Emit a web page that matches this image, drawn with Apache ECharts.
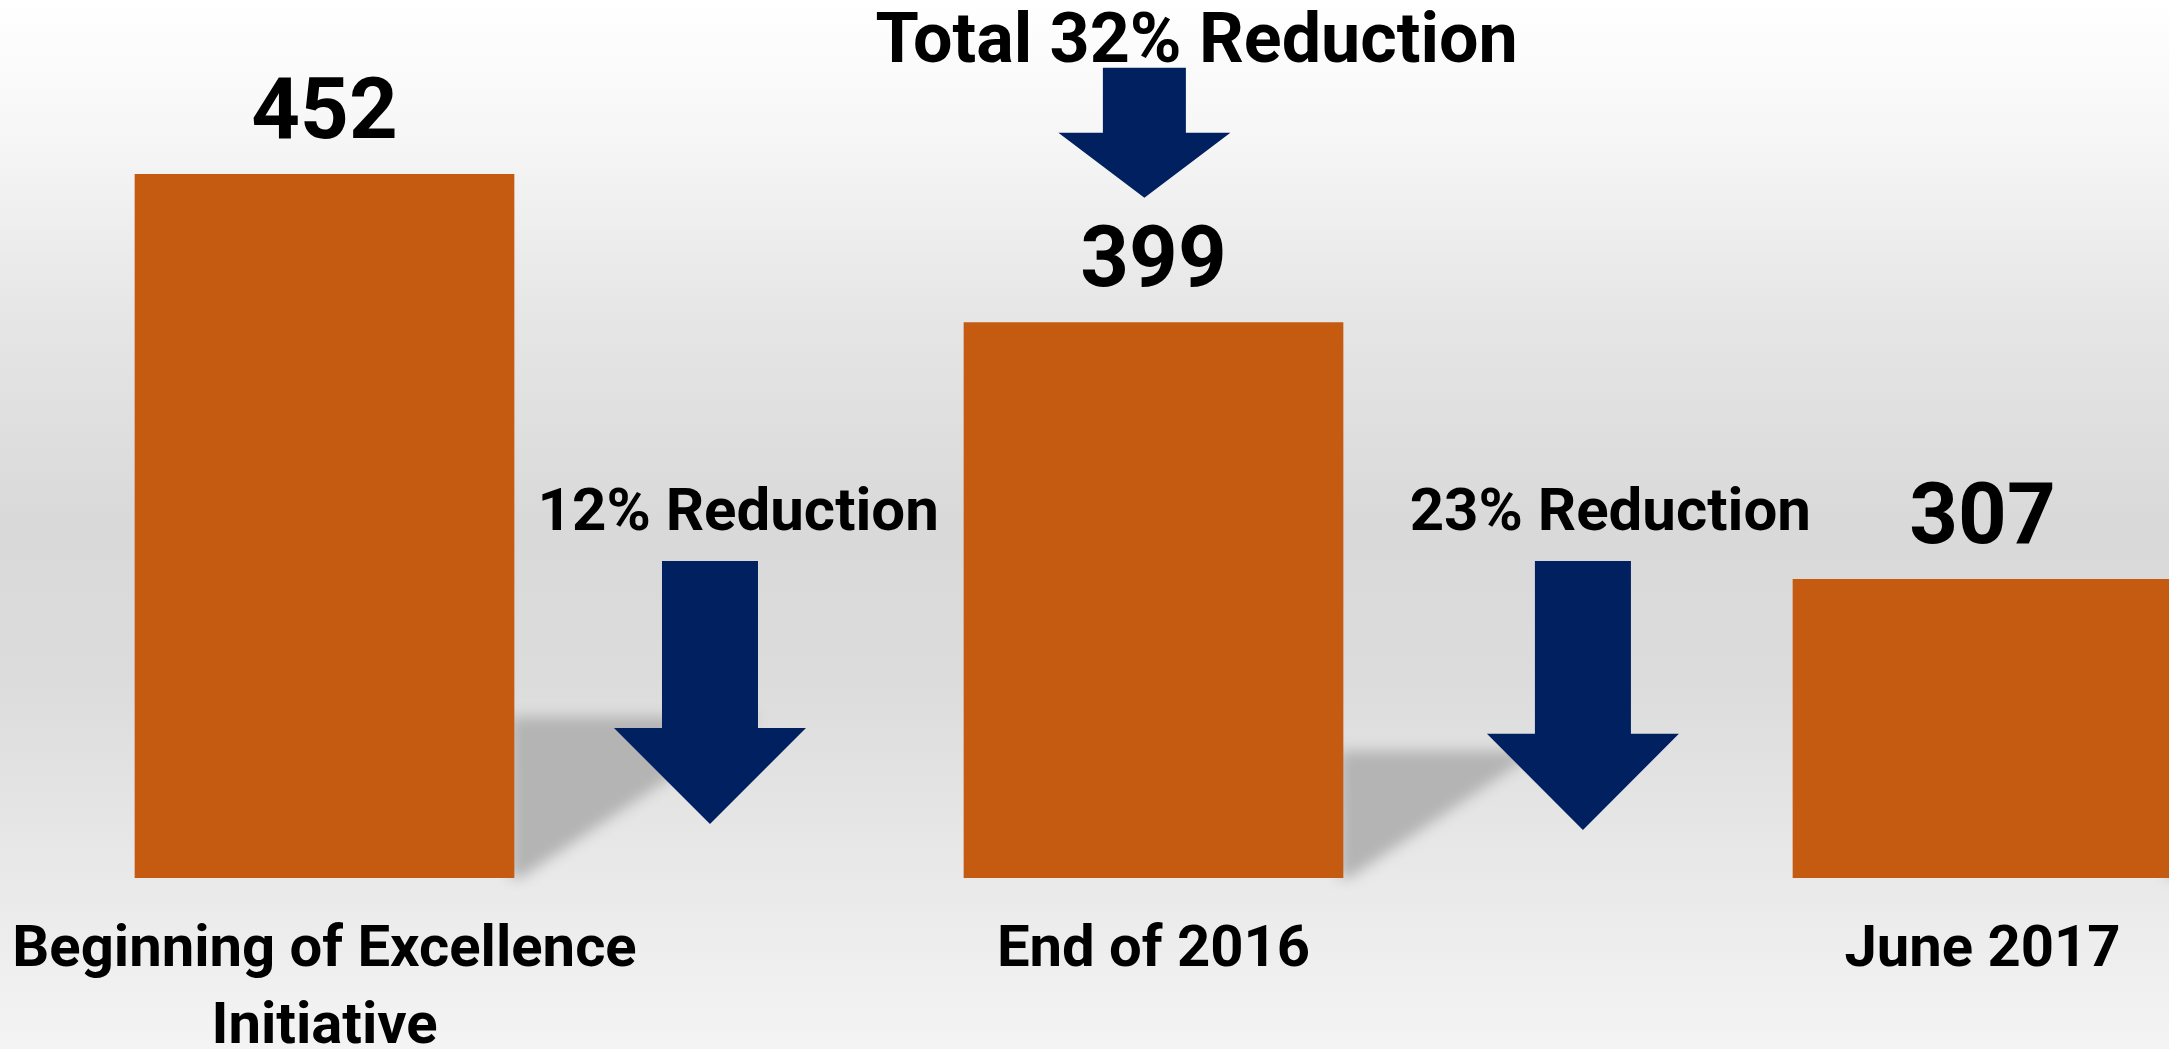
<!DOCTYPE html>
<html>
<head>
<meta charset="utf-8">
<script src="https://cdn.jsdelivr.net/npm/echarts@6/dist/echarts.min.js"></script>
<style>
html,body{margin:0;padding:0;width:2169px;height:1049px;overflow:hidden;}
#c{width:2169px;height:1049px;}
</style>
</head>
<body>
<div id="c"></div>
<script>
// ---- data ----
const categories = ['Beginning of Excellence\nInitiative', 'End of 2016', 'June 2017'];
const values = [452, 399, 307];
// reduction arrows: [category position, shaft top value, head top value, tip value]
const arrowPos = [0.465, 1.518, 0.989];
const arrowShaftTop = [313.5, 313.5, 490.1];
const arrowHeadTop = [253.7, 251.6, 466.8];
const arrowTip = [219.3, 217.2, 443.5];
// annotation texts: [text, category position, value position]
const noteTexts = ['12% Reduction', '23% Reduction', 'Total 32% Reduction'];
const notePos = [0.499, 1.551, 1.052];
const noteVal = [330, 330, 498.5];

const FONT = 'Roboto';
const BAR_W = 0.458;
const chart = echarts.init(document.getElementById('c'), null, {renderer: 'canvas'});

function bandInfo(api, f, v) {
  const i = Math.floor(f);
  const p = api.coord([i, v]);
  const bw = api.size([1, 0])[0];
  return {x: p[0] + (f - i) * bw, y: p[1], bw: bw};
}

const option = {
  animation: false,
  backgroundColor: {
    type: 'linear', x: 0, y: 0, x2: 0, y2: 1,
    colorStops: [
      {offset: 0, color: '#ffffff'},
      {offset: 0.12, color: '#f7f7f7'},
      {offset: 0.3, color: '#e6e6e6'},
      {offset: 0.5, color: '#d9d9d9'},
      {offset: 0.65, color: '#dcdcdc'},
      {offset: 0.82, color: '#e8e8e8'},
      {offset: 1, color: '#f4f4f4'}
    ]
  },
  grid: {left: -90, right: -228, top: 40, bottom: 171, containLabel: false, outerBoundsMode: 'none'},
  xAxis: {
    type: 'category',
    data: categories,
    axisLine: {show: false},
    axisTick: {show: false},
    splitLine: {show: false},
    axisLabel: {
      interval: 0,
      margin: 35,
      color: '#000',
      fontFamily: FONT,
      fontWeight: 'bold',
      fontSize: 58,
      lineHeight: 77
    }
  },
  yAxis: {type: 'value', min: 200, max: 500, show: false, splitLine: {show: false}},
  series: [
    {
      // perspective shadows behind bars
      type: 'custom',
      z: 1,
      silent: true,
      data: values.map((v, i) => [i, v]),
      renderItem: function (params, api) {
        const i = params.dataIndex;
        const v = values[i];
        const top = api.coord([i, v]);
        const base = api.coord([i, 200]);
        const bw = api.size([1, 0])[0] * BAR_W;
        const xr = top[0] + bw / 2;
        const H = base[1] - top[1];
        const ys = base[1] - 0.229 * H;
        const OFF = 6000;
        return {
          type: 'polygon',
          shape: {points: [
            [xr - 4 - OFF, ys], [xr + 0.35 * H - OFF, ys], [xr + 6 - OFF, base[1]], [xr - 4 - OFF, base[1]]
          ]},
          style: {fill: '#b4b4b4', shadowColor: '#b4b4b4', shadowBlur: 14, shadowOffsetX: OFF}
        };
      }
    },
    {
      type: 'bar',
      z: 2,
      data: values,
      barWidth: (BAR_W * 100) + '%',
      itemStyle: {color: '#c55a11'},
      label: {
        show: true,
        position: 'top',
        distance: 15,
        color: '#000',
        fontFamily: FONT,
        fontWeight: 'bold',
        fontSize: 85
      }
    },
    {
      // reduction arrows
      type: 'custom',
      z: 3,
      silent: true,
      data: arrowPos.map((p, i) => [Math.round(p), arrowTip[i]]),
      renderItem: function (params, api) {
        const i = params.dataIndex;
        const total = i === 2;
        const sw = total ? 83 : 96;
        const hw = total ? 172 : 192;
        const a = bandInfo(api, arrowPos[i], arrowShaftTop[i]);
        const yHead = api.coord([0, arrowHeadTop[i]])[1];
        const yTip = api.coord([0, arrowTip[i]])[1];
        const x = a.x;
        return {
          type: 'polygon',
          shape: {points: [
            [x - sw / 2, a.y], [x + sw / 2, a.y], [x + sw / 2, yHead], [x + hw / 2, yHead],
            [x, yTip], [x - hw / 2, yHead], [x - sw / 2, yHead]
          ]},
          style: {fill: '#002060'}
        };
      }
    },
    {
      // annotation texts
      type: 'custom',
      z: 4,
      silent: true,
      data: notePos.map((p, i) => [Math.round(p), noteVal[i]]),
      renderItem: function (params, api) {
        const i = params.dataIndex;
        const a = bandInfo(api, notePos[i], noteVal[i]);
        return {
          type: 'text',
          style: {
            text: noteTexts[i],
            x: a.x, y: a.y,
            align: 'center', verticalAlign: 'middle',
            fill: '#000',
            font: 'bold ' + (i === 2 ? 70 : 60) + 'px ' + FONT
          }
        };
      }
    }
  ]
};
chart.setOption(option);
</script>
</body>
</html>
